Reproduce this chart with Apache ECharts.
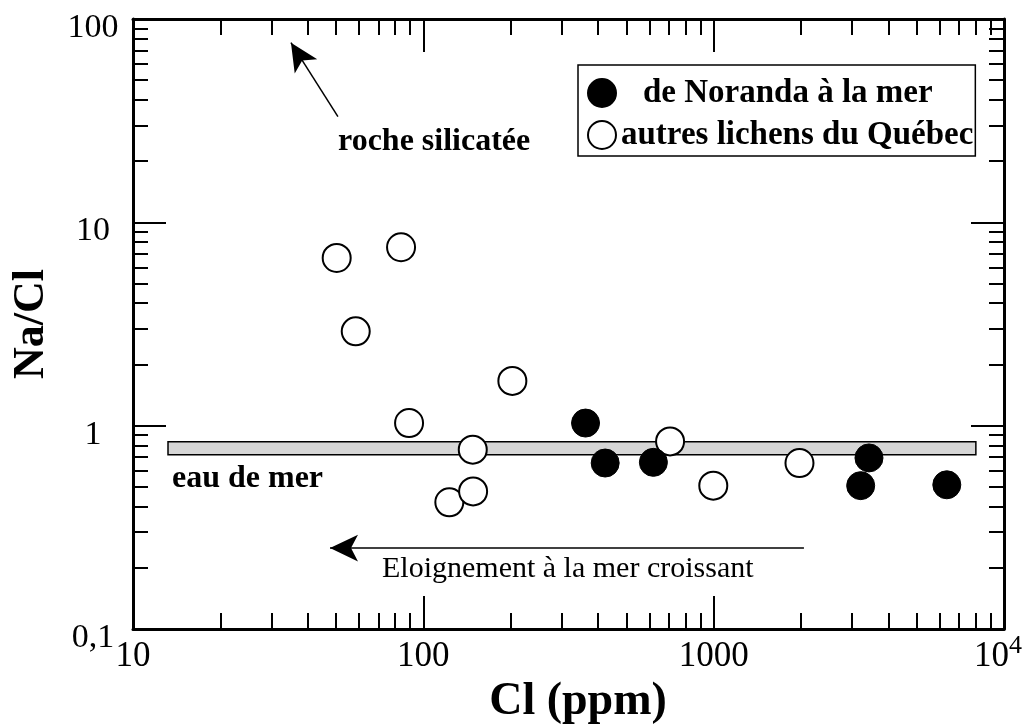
<!DOCTYPE html>
<html lang="fr">
<head>
  <meta charset="UTF-8">
  <title>Na/Cl</title>
</head>
<body style="margin:0">
  <div id="main" style="width: 1022px;height: 727px;"></div>
<script src="https://cdn.jsdelivr.net/npm/echarts@6/dist/echarts.min.js"></script>
<script>
  // valeurs (Cl en ppm, rapport Na/Cl)
  var noranda = [[362, 1.03], [423, 0.655], [620, 0.66], [3209, 0.507], [3427, 0.694], [6353, 0.512]];
  var autres = [[50.3, 6.68], [58.5, 2.91], [83.8, 7.54], [89.3, 1.03], [122.9, 0.42], [148.4, 0.475],
                [148, 0.762], [202.6, 1.66], [707.7, 0.837], [997, 0.507], [1975, 0.655]];
  // bande eau de mer : [x debut, y bas, x fin, y haut]
  var eauDeMer = [[13.2, 0.72, 8000, 0.834]];
  var flecheRoche = [[50.8, 33.1], [35, 76.5]];
  var flecheMer = [[2046, 0.25], [47.7, 0.25]];

  var xMajor = [10, 100, 1000, 10000];
  var xMinor = [20, 30, 40, 50, 60, 70, 80, 90, 200, 300, 400, 500, 600, 700, 800, 900,
                2000, 3000, 4000, 5000, 6000, 7000, 8000, 9000];
  var yMajor = [0.1, 1, 10, 100];
  var yMinor = [0.2, 0.3, 0.4, 0.5, 0.6, 0.7, 0.8, 0.9, 2, 3, 4, 5, 6, 7, 8, 9,
                20, 30, 40, 50, 60, 70, 80, 90];

  var serif = '"Liberation Serif", "Times New Roman", serif';

  function axe(min, max, pos, ticks, len, line, label) {
    return {
      type: 'log', logBase: 10, min: min, max: max, position: pos,
      axisLine: { show: line, onZero: false, lineStyle: { color: '#000', width: 3 } },
      axisTick: { show: true, inside: true, length: len, customValues: ticks, lineStyle: { color: '#000', width: 2 } },
      axisLabel: label || { show: false },
      splitLine: { show: false },
      minorTick: { show: false }
    };
  }

  var xLab = {
    show: true, customValues: xMajor, margin: 4, color: '#000',
    fontFamily: serif, fontSize: 35,
    formatter: function (v) {
      if (v > 9000) return '{b|10}{s|4}{g|}';
      return '{b|' + Math.round(v) + '}';
    },
    rich: {
      b: { fontFamily: serif, fontSize: 35, color: '#000', lineHeight: 48 },
      s: { fontFamily: serif, fontSize: 26, color: '#000', verticalAlign: 'top', lineHeight: 12 },
      g: { width: 12 }
    }
  };
  var yLab = {
    show: true, customValues: yMajor, margin: 40, align: 'center', verticalAlign: 'top',
    lineHeight: 18, color: '#000', fontFamily: serif, fontSize: 34,
    formatter: function (v) {
      return v < 0.5 ? '0,1' : String(Math.round(v));
    }
  };

  var xb = axe(10, 10000, 'bottom', xMajor, 33, true, xLab);
  xb.name = 'Cl (ppm)';
  xb.nameLocation = 'middle';
  xb.nameGap = 50;
  xb.nameTextStyle = { fontFamily: serif, fontWeight: 'bold', fontSize: 46, color: '#000', padding: [0, 0, 0, 19] };

  var yl = axe(0.1, 100, 'left', yMajor, 33, true, yLab);
  yl.name = 'Na/Cl';
  yl.nameLocation = 'middle';
  yl.nameGap = 79;
  yl.nameTextStyle = { fontFamily: serif, fontWeight: 'bold', fontSize: 44, color: '#000' };

  var myChart = echarts.init(document.getElementById('main'));
  var option = {
    animation: false,
    backgroundColor: '#fff',
    grid: { left: 133, top: 19, width: 871, height: 610, outerBoundsMode: 'none' },
    xAxis: [
      xb,
      axe(10, 10000, 'bottom', xMinor, 16, false),
      axe(10, 10000, 'top', xMajor, 33, true),
      axe(10, 10000, 'top', xMinor, 16, false)
    ],
    yAxis: [
      yl,
      axe(0.1, 100, 'left', yMinor, 15, false),
      axe(0.1, 100, 'right', yMajor, 33, true),
      axe(0.1, 100, 'right', yMinor, 15, false)
    ],
    legend: {
      data: ['de Noranda à la mer', 'autres lichens du Québec'],
      orient: 'vertical', left: 578, top: 65,
      padding: [10, 2, 3, 9],
      borderColor: '#000', borderWidth: 1.5,
      itemWidth: 28, itemHeight: 28, itemGap: 6,
      icon: 'circle', selectedMode: false,
      textStyle: {
        fontFamily: serif, fontWeight: 'bold', fontSize: 33, color: '#000', lineHeight: 36,
        rich: {
          p: { fontFamily: serif, fontWeight: 'bold', fontSize: 33, color: '#000', lineHeight: 36, padding: [0, 0, 0, 22] }
        }
      },
      formatter: function (name) {
        return name === 'de Noranda à la mer' ? '{p|' + name + '}' : name;
      }
    },
    graphic: [
      { type: 'text', left: 338, top: 126, style: { text: 'roche silicatée', font: 'bold 32px ' + serif, fill: '#000' } },
      { type: 'text', left: 172, top: 463, style: { text: 'eau de mer', font: 'bold 32px ' + serif, fill: '#000' } },
      { type: 'text', left: 382, top: 554, style: { text: 'Eloignement à la mer croissant', font: '30px ' + serif, fill: '#000' } }
    ],
    series: [
      {
        type: 'custom', name: 'eau de mer', z: 1,
        data: eauDeMer,
        encode: { x: [0, 2], y: [1, 3] },
        renderItem: function (params, api) {
          var p0 = api.coord([api.value(0), api.value(3)]);
          var p1 = api.coord([api.value(2), api.value(1)]);
          return {
            type: 'rect',
            shape: { x: p0[0], y: p0[1], width: p1[0] - p0[0], height: p1[1] - p0[1] },
            style: { fill: '#d6d6d6', stroke: '#000', lineWidth: 1.5 }
          };
        },
        markLine: {
          silent: true, symbol: ['none', 'arrow'], symbolSize: [20, 28],
          label: { show: false },
          lineStyle: { color: '#000', width: 1.5, type: 'solid' },
          data: [
            [{ coord: flecheRoche[0] }, { coord: flecheRoche[1] }],
            [{ coord: flecheMer[0] }, { coord: flecheMer[1] }]
          ]
        }
      },
      {
        name: 'autres lichens du Québec', type: 'scatter', z: 4,
        data: autres, symbol: 'circle', symbolSize: 28,
        itemStyle: { color: '#fff', borderColor: '#000', borderWidth: 2, opacity: 1 }
      },
      {
        name: 'de Noranda à la mer', type: 'scatter', z: 5,
        data: noranda, symbol: 'circle', symbolSize: 28,
        itemStyle: { color: '#000', borderColor: '#000', borderWidth: 1, opacity: 1 }
      }
    ]
  };
  option && myChart.setOption(option);
</script>
</body>
</html>
